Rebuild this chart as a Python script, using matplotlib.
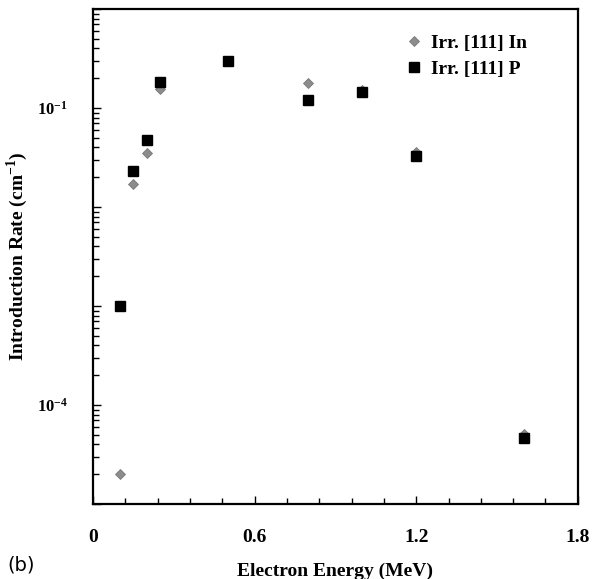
import numpy as np
import matplotlib
matplotlib.use("Agg")
import matplotlib.pyplot as plt
from matplotlib.ticker import MultipleLocator, LogLocator, FuncFormatter, NullFormatter

# Introduction rate vs electron energy, two implant/irradiation series
energy_in = [0.1, 0.15, 0.2, 0.25, 0.5, 0.8, 1.0, 1.2, 1.6]
rate_in = [2.0e-5, 0.017, 0.035, 0.155, 0.30, 0.179, 0.153, 0.036, 5.1e-5]

energy_p = [0.1, 0.15, 0.2, 0.25, 0.5, 0.8, 1.0, 1.2, 1.6]
rate_p = [1.0e-3, 0.023, 0.048, 0.184, 0.30, 0.121, 0.144, 0.033, 4.6e-5]

labels = ["Irr. [111] In", "Irr. [111] P"]
xticks = [0, 0.6, 1.2, 1.8]
ylabeled = {-1: r"$\mathbf{10^{-1}}$", -4: r"$\mathbf{10^{-4}}$"}

plt.rcParams["font.family"] = "Liberation Serif"
plt.rcParams["font.weight"] = "bold"
plt.rcParams["mathtext.fontset"] = "custom"
plt.rcParams["mathtext.rm"] = "Liberation Serif:bold"
plt.rcParams["mathtext.bf"] = "Liberation Serif:bold"

fig = plt.figure(figsize=(6.0, 5.79), dpi=100)
ax = fig.add_axes([0.155, 0.1295, 0.808, 0.855])

ax.plot(energy_in, rate_in, linestyle="none", marker="D", markersize=5.5,
        color="#8c8c8c", markeredgecolor="#7a7a7a", markeredgewidth=0.6,
        label=labels[0])
ax.plot(energy_p, rate_p, linestyle="none", marker="s", markersize=7,
        color="black", markeredgecolor="black", label=labels[1])

ax.set_yscale("log")
ax.set_xlim(0, 1.8)
ax.set_ylim(1e-5, 1)

ax.set_xticks(xticks)
ax.set_xticklabels(["0", "0.6", "1.2", "1.8"])
ax.xaxis.set_minor_locator(MultipleLocator(0.12))
ax.yaxis.set_major_locator(LogLocator(base=10, numticks=10))
ax.yaxis.set_minor_locator(LogLocator(base=10, subs=np.arange(2, 10), numticks=20))
ax.yaxis.set_major_formatter(
    FuncFormatter(lambda v, p: ylabeled.get(int(round(np.log10(v))), "")))
ax.yaxis.set_minor_formatter(NullFormatter())

ax.tick_params(which="both", direction="in", top=False, right=False, width=1)
ax.tick_params(axis="x", labelsize=14, pad=18)
ax.tick_params(axis="y", labelsize=12, pad=18)
ax.tick_params(which="major", length=6)
ax.tick_params(which="minor", length=4)
for s in ax.spines.values():
    s.set_linewidth(1.6)

ax.set_xlabel("Electron Energy (MeV)", fontsize=14, fontweight="bold", labelpad=12)
ax.set_ylabel(r"Introduction Rate (cm$^{\mathbf{-1}}$)", fontsize=14,
              fontweight="bold")
ax.yaxis.set_label_coords(-0.13, 0.5)

ax.legend(loc="upper left", bbox_to_anchor=(0.63, 0.965), frameon=False,
          fontsize=14, handlelength=0.8, handletextpad=0.5, labelspacing=0.45,
          borderaxespad=0)

fig.text(0.012, 0.008, "(b)", fontsize=14, fontweight="normal",
         family="DejaVu Sans", va="bottom", ha="left")

fig.savefig("out.png", dpi=100)
